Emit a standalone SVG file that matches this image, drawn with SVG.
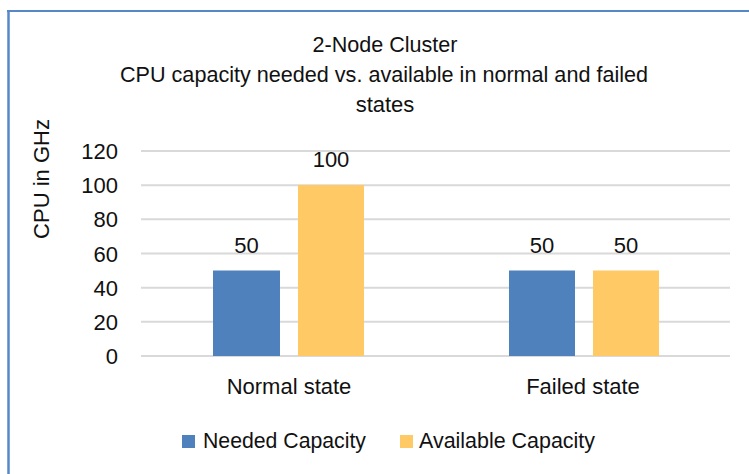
<svg xmlns="http://www.w3.org/2000/svg" width="749" height="474" viewBox="0 0 749 474">
<style>
text{font-family:"Liberation Sans",Arial,sans-serif;font-size:22px;fill:#111111}
.c{text-anchor:middle}
.r{text-anchor:end}
.grid line{stroke:#d9d9d9;stroke-width:2}
.need{fill:#4f81bd}
.avail{fill:#ffc966}
</style>
<rect x="0" y="0" width="749" height="474" fill="#ffffff"/>
<g id="frame" fill="none" stroke="#5588c8">
<line x1="7" y1="11" x2="749" y2="11" stroke-width="2"/>
<line x1="8.5" y1="10" x2="8.5" y2="474" stroke-width="2.5"/>
</g>
<g id="title">
<text class="c" x="385" y="52" textLength="145" lengthAdjust="spacingAndGlyphs">2-Node Cluster</text>
<text class="c" x="384" y="82" textLength="528" lengthAdjust="spacingAndGlyphs">CPU capacity needed vs. available in normal and failed</text>
<text class="c" x="385" y="112">states</text>
</g>
<g id="y-axis-title">
<text class="c" transform="translate(49,179) rotate(-90)">CPU in GHz</text>
</g>
<g class="grid" id="gridlines">
<line x1="141" y1="151" x2="730" y2="151"/>
<line x1="141" y1="185.2" x2="730" y2="185.2"/>
<line x1="141" y1="219.3" x2="730" y2="219.3"/>
<line x1="141" y1="253.5" x2="730" y2="253.5"/>
<line x1="141" y1="287.7" x2="730" y2="287.7"/>
<line x1="141" y1="321.8" x2="730" y2="321.8"/>
<line x1="141" y1="356" x2="730" y2="356"/>
</g>
<g id="y-ticks">
<text class="r" x="118" y="159">120</text>
<text class="r" x="118" y="193">100</text>
<text class="r" x="118" y="227">80</text>
<text class="r" x="118" y="261.5">60</text>
<text class="r" x="118" y="295.5">40</text>
<text class="r" x="118" y="329.5">20</text>
<text class="r" x="118" y="364">0</text>
</g>
<g id="bars">
<rect id="normal-needed" class="need" x="213" y="270.5" width="67" height="85.5"/>
<rect id="normal-available" class="avail" x="298" y="185" width="66" height="171"/>
<rect id="failed-needed" class="need" x="509" y="270.5" width="66" height="85.5"/>
<rect id="failed-available" class="avail" x="593" y="270.5" width="66" height="85.5"/>
</g>
<g id="value-labels">
<text class="c" x="246.5" y="253">50</text>
<text class="c" x="331" y="167">100</text>
<text class="c" x="542" y="253">50</text>
<text class="c" x="626" y="253">50</text>
</g>
<g id="categories">
<text class="c" x="289" y="394">Normal state</text>
<text class="c" x="583" y="394">Failed state</text>
</g>
<g id="legend">
<rect class="need" x="182" y="435" width="13" height="13"/>
<text x="203" y="448" textLength="163" lengthAdjust="spacingAndGlyphs">Needed Capacity</text>
<rect class="avail" x="400" y="435" width="13" height="13"/>
<text x="419" y="448" textLength="176" lengthAdjust="spacingAndGlyphs">Available Capacity</text>
</g>
</svg>
